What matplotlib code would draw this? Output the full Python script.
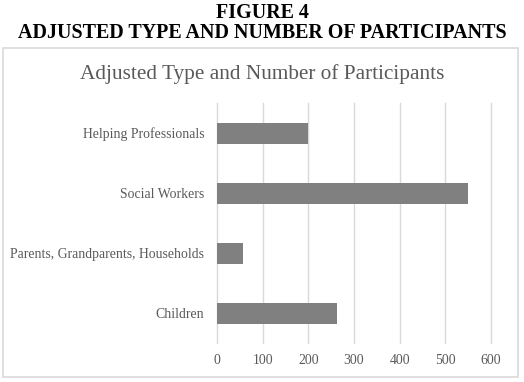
import matplotlib.pyplot as plt
from matplotlib.patches import Rectangle

categories = ['Children', 'Parents, Grandparents, Households', 'Social Workers', 'Helping Professionals']
values = [263, 57, 550, 200]
xticks = [0, 100, 200, 300, 400, 500, 600]

plt.rcParams['font.family'] = ['Liberation Serif', 'DejaVu Serif']

W, H = 524, 382
fig = plt.figure(figsize=(W / 100, H / 100), dpi=100)

# outer chart frame
fig.patches.append(Rectangle((3 / W, 1 - 377 / H), 515 / W, 329 / H, transform=fig.transFigure,
                             fill=False, edgecolor='#d9d9d9', linewidth=1.2))

fig.text(0.5, 1 - 13 / H, 'FIGURE 4', ha='center', va='center', fontsize=14.4, fontweight='bold')
fig.text(0.5, 1 - 33 / H, 'ADJUSTED TYPE AND NUMBER OF PARTICIPANTS', ha='center', va='center',
         fontsize=14.4, fontweight='bold')
fig.text(0.5, 1 - 74 / H, 'Adjusted Type and Number of Participants', ha='center', va='center',
         fontsize=15.3, color='#595959')

ax = fig.add_axes([217 / W, 1 - 343 / H, (491 - 217) / W, 240 / H])
ax.barh(range(len(categories)), values, height=0.35, color='#808080', zorder=3)
ax.set_yticks(range(len(categories)))
ax.set_yticklabels(categories)
ax.set_ylim(-0.5, 3.5)
ax.set_xlim(0, 600)
ax.set_xticks(xticks)
ax.grid(axis='x', color='#d9d9d9', linewidth=1)
for line in ax.get_xgridlines():
    line.set_clip_on(False)
for s in ax.spines.values():
    s.set_visible(False)
ax.tick_params(length=0, colors='#595959', labelsize=9.9)
ax.tick_params(axis='y', pad=9)
ax.tick_params(axis='x', pad=8)

fig.savefig('out.png', dpi=100)
